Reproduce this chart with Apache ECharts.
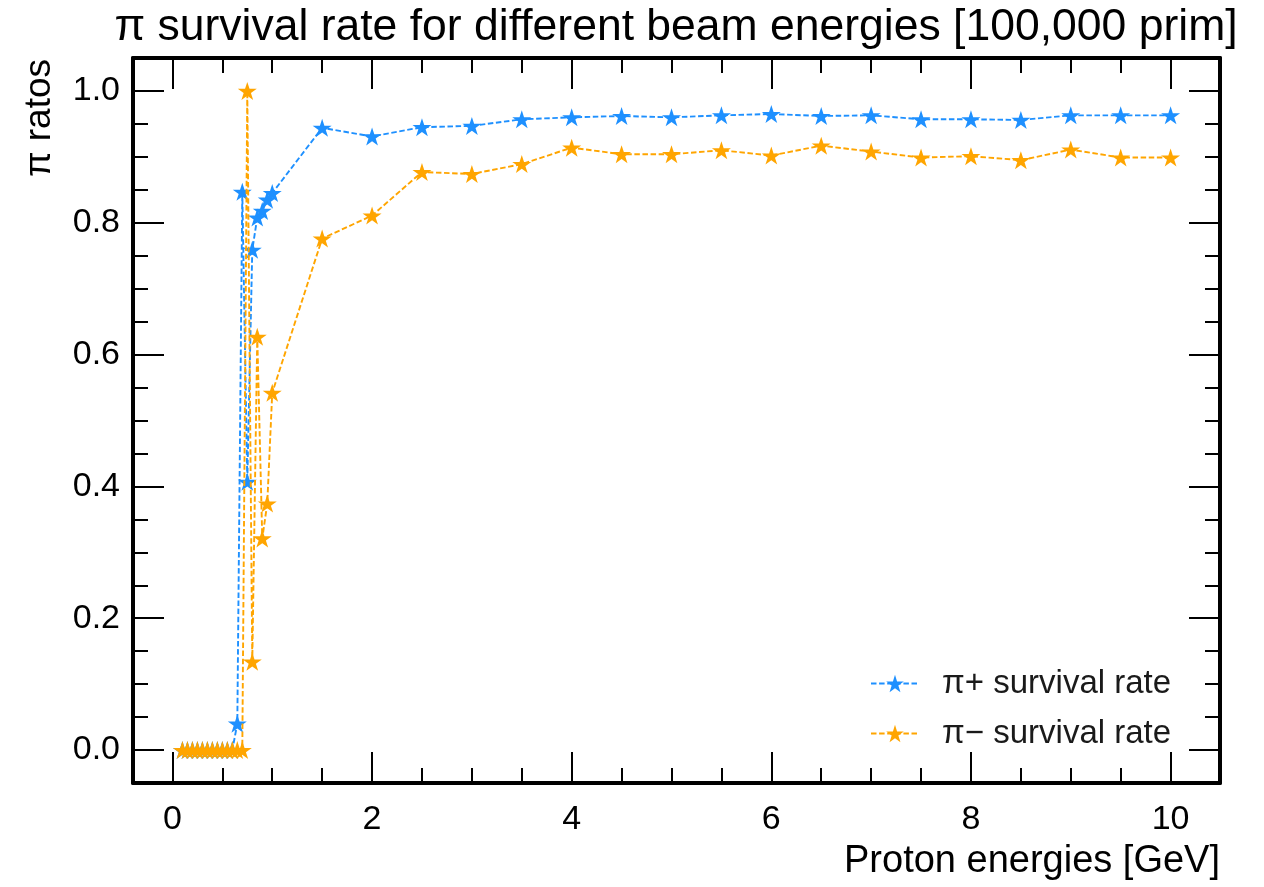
<!DOCTYPE html>
<html>
<head>
<meta charset="utf-8">
<script src="https://cdn.jsdelivr.net/npm/echarts@6/dist/echarts.min.js"></script>
<style>
html, body { margin: 0; padding: 0; background: #fff; }
#chart { width: 1264px; height: 887px; }
</style>
</head>
<body>
<div id="chart"></div>
<script>
// ---- data ----
const energies = [0.1, 0.15, 0.2, 0.25, 0.3, 0.35, 0.4, 0.45, 0.5, 0.55, 0.6, 0.65, 0.7,
  0.75, 0.8, 0.85, 0.9, 0.95, 1.0,
  1.5, 2, 2.5, 3, 3.5, 4, 4.5, 5, 5.5, 6, 6.5, 7, 7.5, 8, 8.5, 9, 9.5, 10];
const piPlus = [0, 0, 0, 0, 0, 0, 0, 0, 0, 0, 0, 0.04, 0.847,
  0.407, 0.759, 0.808, 0.818, 0.835, 0.845,
  0.944, 0.931, 0.945, 0.947, 0.957, 0.960, 0.962, 0.960, 0.963, 0.965, 0.962, 0.963, 0.957, 0.957, 0.956, 0.963, 0.963, 0.963];
const piMinus = [0, 0, 0, 0, 0, 0, 0, 0, 0, 0, 0, 0, 0,
  1.0, 0.134, 0.627, 0.321, 0.374, 0.542,
  0.776, 0.811, 0.877, 0.874, 0.889, 0.914, 0.904, 0.904, 0.910, 0.902, 0.917, 0.908, 0.899, 0.901, 0.895, 0.911, 0.899, 0.899];
const seriesNames = ['π+ survival rate', 'π− survival rate'];
const xMajorTicks = [0, 2, 4, 6, 8, 10];
const xMinorTicks = [0.5, 1, 1.5, 2.5, 3, 3.5, 4.5, 5, 5.5, 6.5, 7, 7.5, 8.5, 9, 9.5];
const yMajorTicks = [0, 0.2, 0.4, 0.6, 0.8, 1.0];
const yMinorTicks = [0.05, 0.1, 0.15, 0.25, 0.3, 0.35, 0.45, 0.5, 0.55, 0.65, 0.7, 0.75, 0.85, 0.9, 0.95];
const titleText = 'π survival rate for different beam energies [100,000 prim]';
const xTitle = 'Proton energies [GeV]';
const yTitle = 'π ratos';

// ---- styling ----
const FONT = '"Liberation Sans", Arial, Helvetica, sans-serif';
const X_MIN = -0.395, X_MAX = 10.495, Y_MIN = -0.05, Y_MAX = 1.05;
const STAR = 'path://M0,-100L22.45,-30.9L95.1,-30.9L36.3,11.8L58.8,80.9L0,38.2L-58.8,80.9L-36.3,11.8L-95.1,-30.9L-22.45,-30.9Z';

function tickAxis(kind, position, ticks, len, withLine, labels) {
  return {
    type: 'value', position: position,
    min: kind === 'x' ? X_MIN : Y_MIN, max: kind === 'x' ? X_MAX : Y_MAX,
    axisLine: { show: withLine, onZero: false, lineStyle: { color: '#000', width: 4 } },
    axisTick: { show: true, inside: true, length: len, customValues: ticks, lineStyle: { color: '#000', width: 2 } },
    axisLabel: labels ? labels : { show: false },
    splitLine: { show: false },
    minorTick: { show: false },
    z: 5
  };
}

const chart = echarts.init(document.getElementById('chart'));
const option = {
  animation: false,
  backgroundColor: '#fff',
  title: {
    text: titleText, left: 671, top: 0, textAlign: 'center',
    textStyle: { fontFamily: FONT, fontSize: 44.5, fontWeight: 'normal', color: '#000' }
  },
  grid: { left: 133, right: 44, top: 58, bottom: 104, containLabel: false, outerBoundsMode: 'none' },
  legend: {
    orient: 'vertical', left: 865, top: 662, itemWidth: 48, itemHeight: 22, itemGap: 17,
    data: seriesNames,
    textStyle: { fontFamily: FONT, fontSize: 33, lineHeight: 32, color: '#1a1a1a', padding: [0, 0, 0, 18] }
  },
  graphic: [
    {
      type: 'text', x: 1220, y: 862, z: 10,
      style: { text: xTitle, font: '38px ' + FONT, fill: '#000', align: 'right', verticalAlign: 'middle', textAlign: 'right', textVerticalAlign: 'middle' }
    },
    {
      type: 'text', x: 40, y: 59, rotation: Math.PI / 2, z: 10,
      style: { text: yTitle, font: '37px ' + FONT, fill: '#000', align: 'right', verticalAlign: 'middle', textAlign: 'right', textVerticalAlign: 'middle' }
    }
  ],
  xAxis: [
    tickAxis('x', 'bottom', xMajorTicks, 31, true, {
      show: true, customValues: xMajorTicks, margin: 20,
      fontFamily: FONT, fontSize: 34, color: '#000'
    }),
    tickAxis('x', 'bottom', xMinorTicks, 15, false),
    tickAxis('x', 'top', xMajorTicks, 31, true),
    tickAxis('x', 'top', xMinorTicks, 15, false)
  ],
  yAxis: [
    tickAxis('y', 'left', yMajorTicks, 31, true, {
      show: true, customValues: yMajorTicks, margin: 13,
      fontFamily: FONT, fontSize: 34, color: '#000',
      formatter: function (v) { return v.toFixed(1); }
    }),
    tickAxis('y', 'left', yMinorTicks, 15, false),
    tickAxis('y', 'right', yMajorTicks, 31, true),
    tickAxis('y', 'right', yMinorTicks, 15, false)
  ],
  series: [
    {
      name: seriesNames[0], type: 'line', xAxisIndex: 0, yAxisIndex: 0,
      data: energies.map(function (e, i) { return [e, piPlus[i]]; }),
      symbol: STAR, symbolSize: [19, 18],
      itemStyle: { color: '#1e90ff' },
      lineStyle: { color: '#1e90ff', width: 1.9, type: [5.5, 2.6] },
      z: 3
    },
    {
      name: seriesNames[1], type: 'line', xAxisIndex: 0, yAxisIndex: 0,
      data: energies.map(function (e, i) { return [e, piMinus[i]]; }),
      symbol: STAR, symbolSize: [19, 18],
      itemStyle: { color: '#ffa500' },
      lineStyle: { color: '#ffa500', width: 1.9, type: [5.5, 2.6] },
      z: 4
    }
  ]
};
chart.setOption(option);
</script>
</body>
</html>
